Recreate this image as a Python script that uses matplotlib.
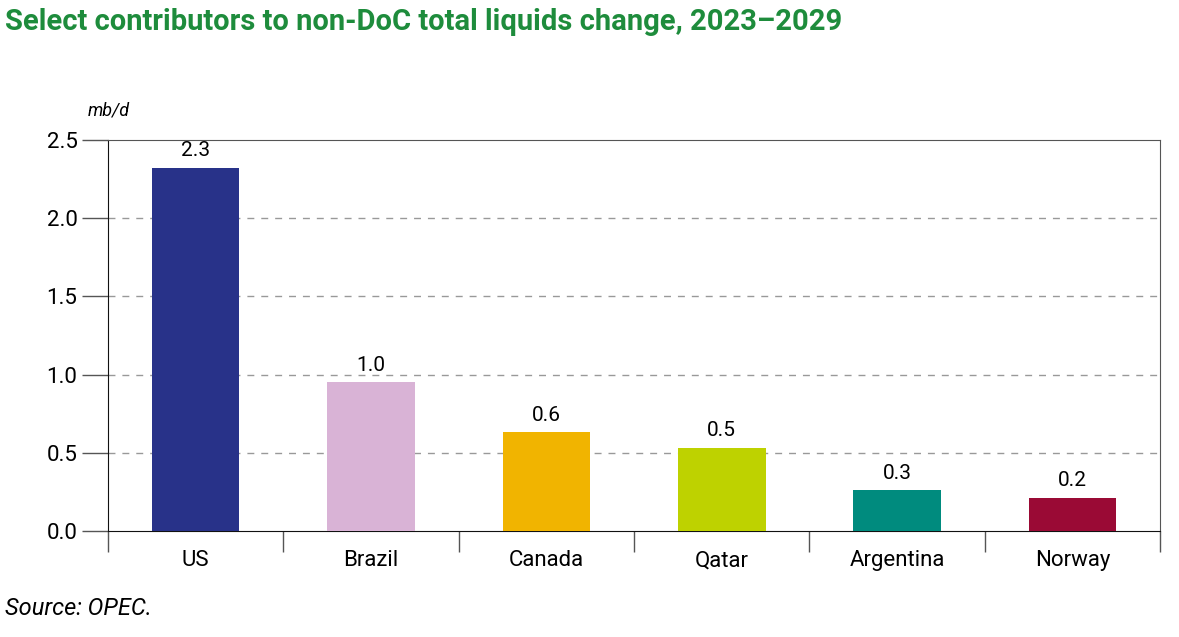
import matplotlib.pyplot as plt
import numpy as np

countries = ['US', 'Brazil', 'Canada', 'Qatar', 'Argentina', 'Norway']
values = [2.32, 0.95, 0.63, 0.53, 0.26, 0.21]
labels = ['2.3', '1.0', '0.6', '0.5', '0.3', '0.2']
colors = ['#283289', '#d9b3d6', '#f1b400', '#bed200', '#008b7e', '#9a0a35']

plt.rcParams['font.family'] = ['Roboto', 'DejaVu Sans']

fig = plt.figure(figsize=(11.79, 6.37), dpi=100)
ax = fig.add_axes([0.0916, 0.1664, 0.8923, 0.6138])

x = np.arange(len(countries))
bars = ax.bar(x, values, width=0.5, color=colors, zorder=3)

for rect, lab in zip(bars, labels):
    ax.text(rect.get_x() + rect.get_width() / 2, rect.get_height() + 0.05, lab,
            ha='center', va='bottom', fontsize=15)

ax.set_xlim(-0.5, len(countries) - 0.5)
ax.set_ylim(0, 2.5)
ax.set_yticks([0, 0.5, 1.0, 1.5, 2.0, 2.5])
ax.set_yticklabels(['0.0', '0.5', '1.0', '1.5', '2.0', '2.5'], fontsize=16)
ax.tick_params(axis='y', length=19, width=1, color='#555555', pad=3)

ax.set_xticks(x)
ax.set_xticklabels(countries, fontsize=16)
ax.tick_params(axis='x', length=0, pad=14)
ax.set_xticks(np.arange(-0.5, len(countries)), minor=True)
ax.tick_params(axis='x', which='minor', length=15, width=1, color='#555555')

for yv in [0.5, 1.0, 1.5, 2.0]:
    ax.axhline(yv, color='#999999', linestyle=(0, (5, 5)), linewidth=1, zorder=1)

for s in ['top', 'right']:
    ax.spines[s].set_color('#555555')
for s in ['left', 'bottom']:
    ax.spines[s].set_color('#111111')

fig.text(0.004, 0.965, 'Select contributors to non-DoC total liquids change, 2023\u20132029',
         fontsize=21, fontweight='bold', color='#1e8c3c', ha='left', va='center')
fig.text(0.074, 0.826, 'mb/d', fontsize=13, style='italic', ha='left', va='center')
fig.text(0.004, 0.045, 'Source: OPEC.', fontsize=17, style='italic', ha='left', va='center')

fig.savefig('out.png', dpi=100)
